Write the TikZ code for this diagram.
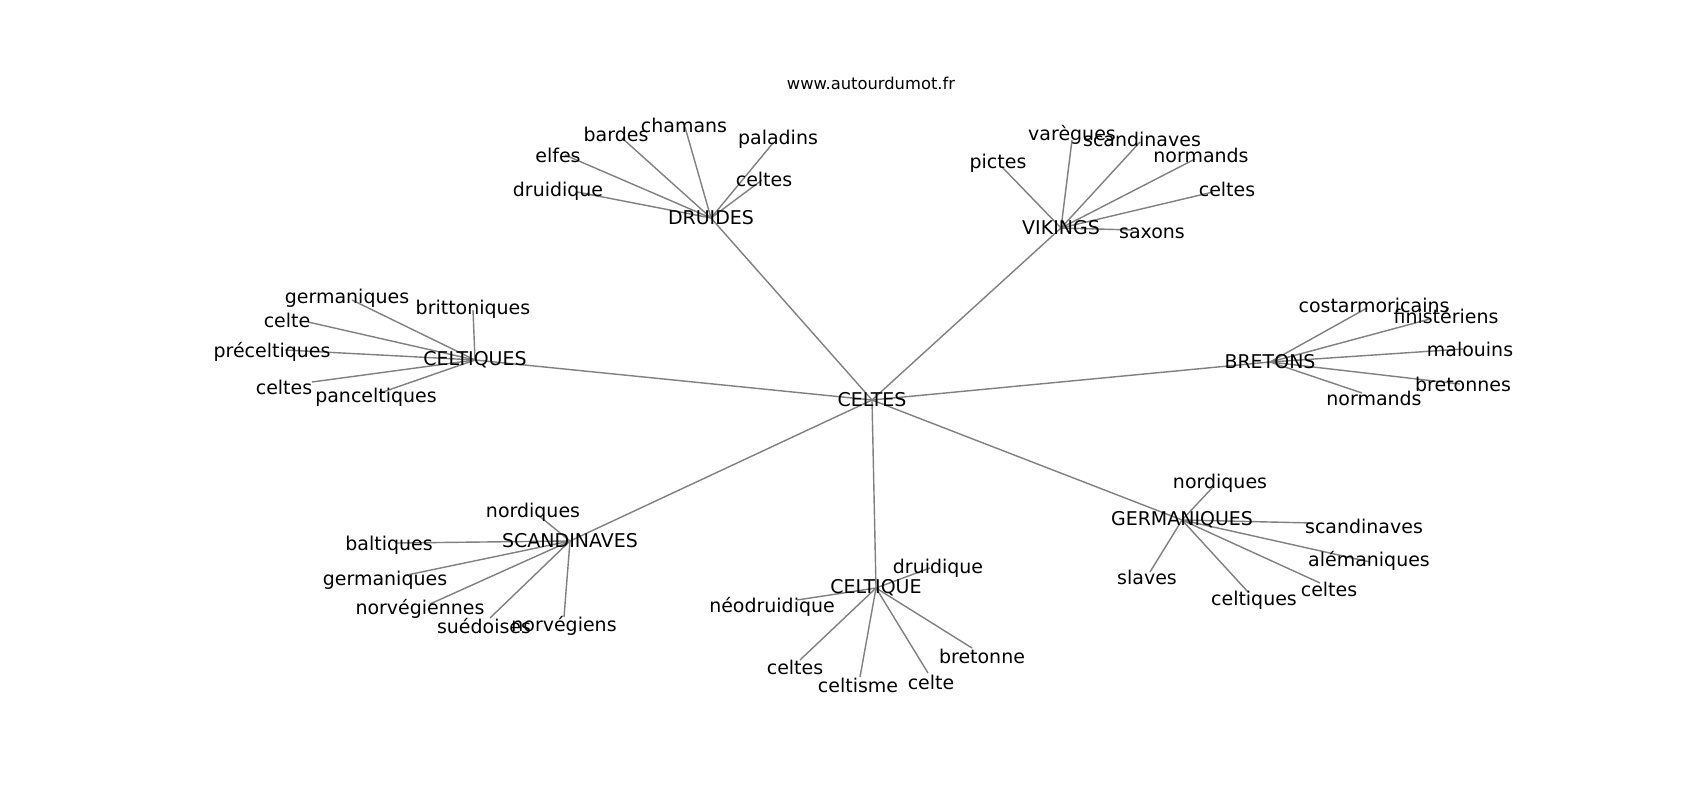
\documentclass[tikz,border=0pt]{standalone}
\usepackage{fontspec}
\setmainfont{DejaVu Sans}
\usetikzlibrary{backgrounds}

\tikzset{
  hub/.style={inner sep=0pt, yshift=-0.04cm, font=\fontsize{10.8}{12}\selectfont},
  word/.style={inner sep=0pt, yshift=-0.04cm, font=\fontsize{10.8}{12}\selectfont},
  link/.style={draw=gray, line width=0.8pt},
}

\begin{document}
\begin{tikzpicture}[x=0.02cm, y=-0.02cm]
    \useasboundingbox (0,0) rectangle (1700,800);
    \begin{pgfonlayer}{background}
        \fill[white] (0,0) rectangle (1700,800);
    \end{pgfonlayer}

    % Title
    \node[inner sep=0pt, font=\fontsize{9.3}{11}\selectfont] (title) at (871,83) {www.autourdumot.fr};

    % Centre and the seven hubs
    \node[hub] (celtes) at (872,398) {CELTES};
    \node[hub] (druides) at (711,216) {DRUIDES};
    \node[hub] (vikings) at (1061,226) {VIKINGS};
    \node[hub] (celtiques) at (475,358) {CELTIQUES};
    \node[hub] (bretons) at (1270,360) {BRETONS};
    \node[hub] (scandinaves) at (570,539) {SCANDINAVES};
    \node[hub] (celtique) at (876,586) {CELTIQUE};
    \node[hub] (germaniques) at (1182,518) {GERMANIQUES};

    \begin{pgfonlayer}{background}
        \foreach \h in {druides,vikings,celtiques,bretons,scandinaves,celtique,germaniques}
            \draw[link] (celtes.center) -- (\h.center);
    \end{pgfonlayer}

    % Words around DRUIDES
    \foreach \lx/\ly/\ex/\ey/\w [count=\i] in {558/189/577/192/druidique, 558/153/565/155/elfes,
        616/132/622/138/bardes, 684/123/685/127/chamans, 778/137/773/143/paladins, 764/177/762/180/celtes}{
        \node[word] (dr\i) at (\lx,\ly) {\w};
        \coordinate (drp\i) at (\ex,\ey);
        \begin{pgfonlayer}{background}
            \draw[link] (druides.center) -- (drp\i);
        \end{pgfonlayer}
    }

    % Words around VIKINGS
    \foreach \lx/\ly/\ex/\ey/\w [count=\i] in {998/161/1002/167/pictes, 1072/133/1072/140/varègues,
        1142/137/1140/142/scandinaves, 1201/153/1195/159/normands, 1227/187/1213/192/celtes, 1152/231/1133/230/saxons}{
        \node[word] (vk\i) at (\lx,\ly) {\w};
        \coordinate (vkp\i) at (\ex,\ey);
        \begin{pgfonlayer}{background}
            \draw[link] (vikings.center) -- (vkp\i);
        \end{pgfonlayer}
    }

    % Words around CELTIQUES
    \foreach \lx/\ly/\ex/\ey/\w [count=\i] in {347/296/352/300/germaniques, 473/307/473/310/brittoniques,
        287/318/308/322/celte, 272/350/285/350/préceltiques, 284/385/312/382/celtes, 376/395/380/393/panceltiques}{
        \node[word] (cq\i) at (\lx,\ly) {\w};
        \coordinate (cqp\i) at (\ex,\ey);
        \begin{pgfonlayer}{background}
            \draw[link] (celtiques.center) -- (cqp\i);
        \end{pgfonlayer}
    }

    % Words around BRETONS
    \foreach \lx/\ly/\ex/\ey/\w [count=\i] in {1374/303/1367/308/costarmoricains, 1446/314/1430/319/finistériens,
        1470/347/1463/349/malouins, 1463/382/1460/384/bretonnes, 1374/396/1362/393/normands}{
        \node[word] (bt\i) at (\lx,\ly) {\w};
        \coordinate (btp\i) at (\ex,\ey);
        \begin{pgfonlayer}{background}
            \draw[link] (bretons.center) -- (btp\i);
        \end{pgfonlayer}
    }

    % Words around SCANDINAVES
    \foreach \lx/\ly/\ex/\ey/\w [count=\i] in {533/510/538/515/nordiques, 389/543/397/543/baltiques,
        385/578/407/575/germaniques, 420/607/430/604/norvégiennes, 484/624/490/618/suédoises, 564/624/564/617/norvégiens}{
        \node[word] (sc\i) at (\lx,\ly) {\w};
        \coordinate (scp\i) at (\ex,\ey);
        \begin{pgfonlayer}{background}
            \draw[link] (scandinaves.center) -- (scp\i);
        \end{pgfonlayer}
    }

    % Words around CELTIQUE
    \foreach \lx/\ly/\ex/\ey/\w [count=\i] in {938/566/930/568/druidique, 772/605/797/600/néodruidique,
        795/665/800/660/celtes, 858/683/860/677/celtisme, 931/680/928/673/celte, 982/654/972/648/bretonne}{
        \node[word] (ce\i) at (\lx,\ly) {\w};
        \coordinate (cep\i) at (\ex,\ey);
        \begin{pgfonlayer}{background}
            \draw[link] (celtique.center) -- (cep\i);
        \end{pgfonlayer}
    }

    % Words around GERMANIQUES
    \foreach \lx/\ly/\ex/\ey/\w [count=\i] in {1220/481/1213/487/nordiques, 1364/524/1313/523/scandinaves,
        1369/559/1370/562/alémaniques, 1147/575/1150/572/slaves, 1254/598/1248/592/celtiques, 1329/587/1320/583/celtes}{
        \node[word] (gm\i) at (\lx,\ly) {\w};
        \coordinate (gmp\i) at (\ex,\ey);
        \begin{pgfonlayer}{background}
            \draw[link] (germaniques.center) -- (gmp\i);
        \end{pgfonlayer}
    }
\end{tikzpicture}
\end{document}
